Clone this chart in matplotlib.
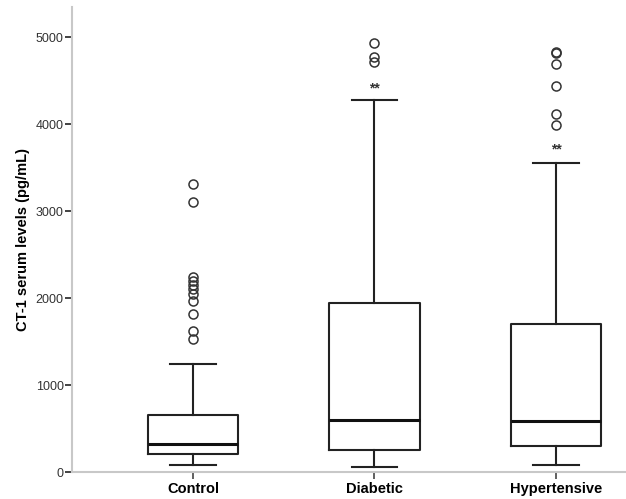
import matplotlib
matplotlib.use('Agg')
import matplotlib.pyplot as plt

plt.rcParams['font.family'] = ['Liberation Sans', 'DejaVu Sans']

# groups and box summary values (pg/mL)
groups = ['Control', 'Diabetic', 'Hypertensive']
q1 = [204, 253, 295]
medians = [323, 598, 590]
q3 = [660, 1946, 1698]
whisker_low = [84, 61, 85]
whisker_high = [1242, 4278, 3548]

# outliers (circles) and extremes (asterisks)
outliers = [
    [1525, 1621, 1812, 1969, 2046, 2100, 2149, 2199, 2238, 3107, 3310],
    [4716, 4774, 4927],
    [3992, 4118, 4437, 4686, 4812, 4824],
]
extremes = [None, 4414, 3713]


fig = plt.figure(figsize=(6.26, 4.99), dpi=100)
ax = fig.add_axes([0.115, 0.054, 0.885, 0.932])

stats = []
for i, name in enumerate(groups):
    stats.append({'label': name, 'q1': q1[i], 'med': medians[i], 'q3': q3[i],
                  'whislo': whisker_low[i], 'whishi': whisker_high[i],
                  'fliers': outliers[i]})

positions = [1, 2, 3]
ax.bxp(stats, positions=positions, widths=0.5, showfliers=True,
       boxprops=dict(color='#222222', linewidth=1.5),
       medianprops=dict(color='#111111', linewidth=2.2),
       whiskerprops=dict(color='#222222', linewidth=1.5),
       capprops=dict(color='#222222', linewidth=1.5),
       capwidths=0.25,
       flierprops=dict(marker='o', markerfacecolor='none', markeredgecolor='#333333',
                       markersize=6.5, markeredgewidth=1.1))

# SPSS style extreme markers
for pos, val in zip(positions, extremes):
    if val is not None:
        ax.text(pos, val, '**', ha='center', va='center', fontsize=10,
                fontweight='bold', color='#333333')

ax.set_xlim(0.333, 3.386)
ax.set_ylim(0, 5345)
ax.set_yticks([0, 1000, 2000, 3000, 4000, 5000])

for side in ['top', 'right']:
    ax.spines[side].set_visible(False)
for side in ['left', 'bottom']:
    ax.spines[side].set_color('#c8c8c8')
    ax.spines[side].set_linewidth(1.5)

ax.tick_params(axis='y', direction='out', length=5, width=1.2, color='#222222',
               labelsize=9, labelcolor='#333333', pad=1)
ax.tick_params(axis='x', direction='out', length=5, width=1.2, color='#444444',
               labelsize=10.5, pad=2)
for lbl in ax.get_xticklabels():
    lbl.set_fontweight('bold')

ax.set_ylabel('CT-1 serum levels (pg/mL)', fontsize=10.5, fontweight='bold', labelpad=4)

fig.savefig('out.png', dpi=100)
